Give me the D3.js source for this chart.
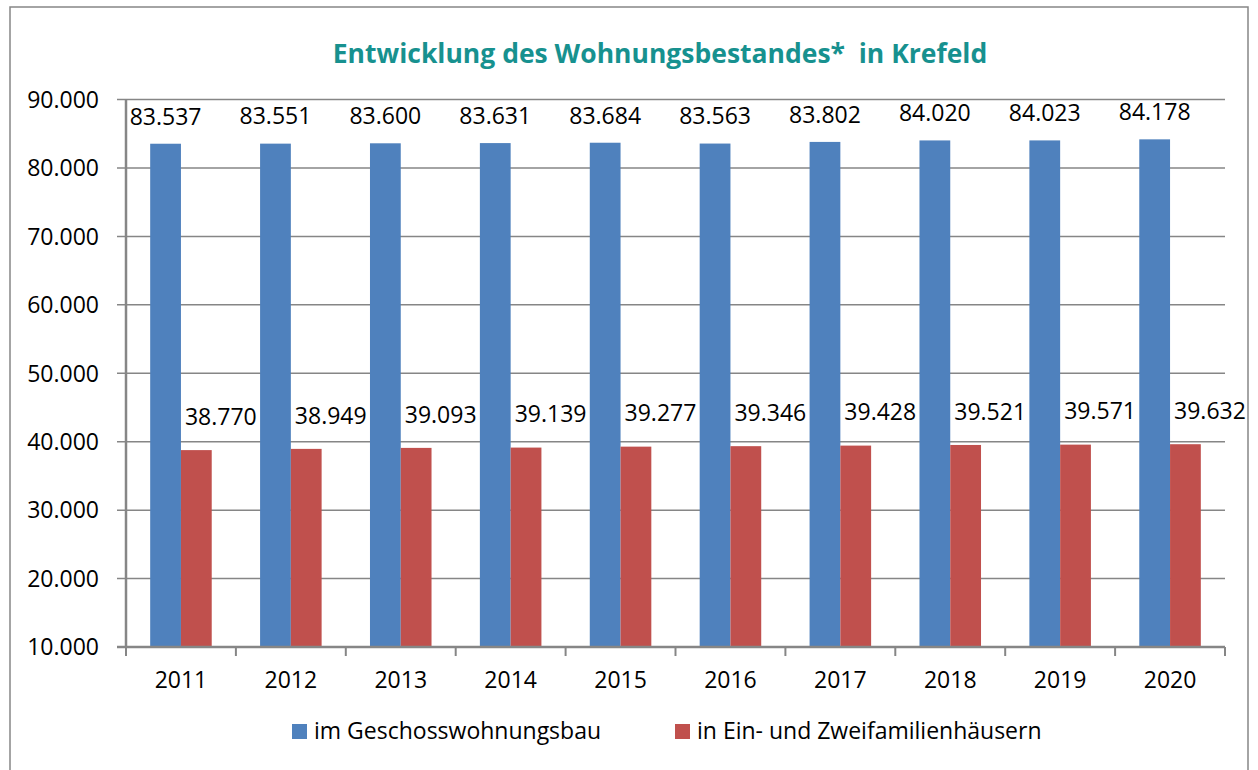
<!DOCTYPE html>
<html>
  <head lang="de">
    <meta charset="utf-8">
    <title>Entwicklung des Wohnungsbestandes in Krefeld</title>
    <script src="https://cdn.jsdelivr.net/npm/d3@7"></script>
    <style>
      body { margin: 0; background: #fff; }
      text { font-family: "Open Sans", sans-serif; fill: #000; }
    </style>
  </head>
  <body>
    <script>

      // data
      var years = ["2011", "2012", "2013", "2014", "2015", "2016", "2017", "2018", "2019", "2020"];
      var geschoss = [83537, 83551, 83600, 83631, 83684, 83563, 83802, 84020, 84023, 84178];
      var einZwei = [38770, 38949, 39093, 39139, 39277, 39346, 39428, 39521, 39571, 39632];
      var seriesNames = ["im Geschosswohnungsbau", "in Ein- und Zweifamilienhäusern"];
      var yTicks = [10000, 20000, 30000, 40000, 50000, 60000, 70000, 80000, 90000];

      var colors = ["#4f81bd", "#c0504d"];
      var grey = "#868686";

      var width = 1258, height = 770;
      var margin = {top: 99.5, right: 33, bottom: 123, left: 126};
      var plotW = width - margin.left - margin.right;
      var plotH = height - margin.top - margin.bottom;

      // german number format: dot as thousands separator
      var fmt = d3.formatLocale({decimal: ",", thousands: ".", grouping: [3], currency: ["", " €"]}).format(",d");

      var svg = d3.select("body").append("svg")
          .attr("width", width)
          .attr("height", height);

      // outer chart border
      svg.append("rect")
          .attr("x", 10).attr("y", 7)
          .attr("width", 1238).attr("height", 800)
          .attr("fill", "none")
          .attr("stroke", grey)
          .attr("stroke-width", 1.5);

      // title
      svg.append("text")
          .attr("x", 660).attr("y", 63)
          .attr("text-anchor", "middle")
          .style("font-size", "26.5px")
          .style("font-weight", "bold")
          .style("fill", "#17918f")
          .style("white-space", "pre")
          .text("Entwicklung des Wohnungsbestandes*  in Krefeld");

      var g = svg.append("g")
          .attr("transform", "translate(" + margin.left + "," + margin.top + ")");

      var x = d3.scaleBand().domain(years).range([0, plotW]).paddingInner(0.44).paddingOuter(0.22);
      var x1 = d3.scaleBand().domain([0, 1]).range([0, x.bandwidth()]);
      var y = d3.scaleLinear().domain([10000, 90000]).range([plotH, 0]);

      // horizontal gridlines
      g.append("g")
          .selectAll("line")
          .data(yTicks)
          .enter().append("line")
          .attr("x1", -9).attr("x2", plotW)
          .attr("y1", function(d) { return y(d); })
          .attr("y2", function(d) { return y(d); })
          .attr("stroke", grey)
          .attr("stroke-width", 1.5);

      // y axis labels
      var yAxis = g.append("g")
          .call(d3.axisLeft(y).tickValues(yTicks).tickFormat(fmt).tickSize(0).tickPadding(27));
      yAxis.select(".domain").remove();
      yAxis.selectAll("text").style("font-size", "23px").attr("dy", "0.34em");

      // bars
      var series = [geschoss, einZwei];
      series.forEach(function(vals, s) {
        g.append("g")
            .selectAll("rect")
            .data(vals)
            .enter().append("rect")
            .attr("x", function(d, i) { return x(years[i]) + x1(s); })
            .attr("y", function(d) { return y(d); })
            .attr("width", x1.bandwidth())
            .attr("height", function(d) { return plotH - y(d); })
            .attr("fill", colors[s]);
      });

      // value labels
      g.append("g")
          .selectAll("text")
          .data(geschoss)
          .enter().append("text")
          .attr("x", function(d, i) { return x(years[i]) + x1(0) + x1.bandwidth() / 2; })
          .attr("y", function(d) { return y(d) - 27; })
          .attr("dy", "0.34em")
          .attr("text-anchor", "middle")
          .style("font-size", "23px")
          .text(fmt);

      g.append("g")
          .selectAll("text")
          .data(einZwei)
          .enter().append("text")
          .attr("x", function(d, i) { return x(years[i]) + x1(1) + 4; })
          .attr("y", function(d) { return y(d) - 33; })
          .attr("dy", "0.34em")
          .style("font-size", "23px")
          .text(fmt);

      // y axis line
      g.append("line")
          .attr("x1", 0).attr("x2", 0)
          .attr("y1", 0).attr("y2", plotH)
          .attr("stroke", grey)
          .attr("stroke-width", 2.5);

      // x axis with ticks between categories
      var xAxis = g.append("g")
          .attr("transform", "translate(0," + plotH + ")")
          .call(d3.axisBottom(x).tickSize(0).tickPadding(27));
      xAxis.select(".domain").remove();
      xAxis.selectAll("text").style("font-size", "23px").attr("dy", "0.6em");

      var step = x.step();
      g.append("line")
          .attr("x1", -9).attr("x2", plotW)
          .attr("y1", plotH).attr("y2", plotH)
          .attr("stroke", grey)
          .attr("stroke-width", 2.5);
      g.append("g")
          .selectAll("line")
          .data(d3.range(years.length + 1))
          .enter().append("line")
          .attr("x1", function(i) { return i * step; })
          .attr("x2", function(i) { return i * step; })
          .attr("y1", plotH).attr("y2", plotH + 9)
          .attr("stroke", grey)
          .attr("stroke-width", 2);

      // legend
      var legendX = [292, 675];
      var legend = svg.append("g");
      seriesNames.forEach(function(name, s) {
        legend.append("rect")
            .attr("x", legendX[s]).attr("y", 724)
            .attr("width", 15).attr("height", 15)
            .attr("fill", colors[s]);
        legend.append("text")
            .attr("x", legendX[s] + 22).attr("y", 731.5)
            .attr("dy", "0.34em")
            .style("font-size", "23px")
            .text(name);
      });
    </script>
  </body>
</html>
